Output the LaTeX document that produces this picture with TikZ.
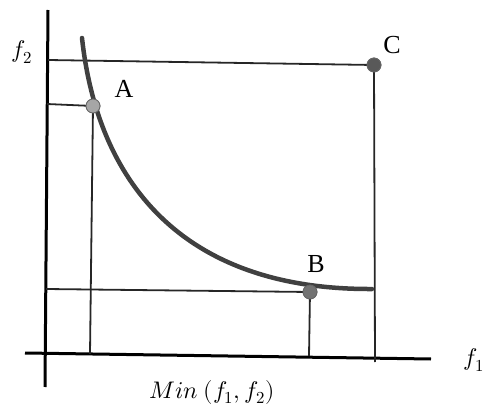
\documentclass[tikz,border=0pt]{standalone}
\usepackage{fontspec}
\usepackage{unicode-math}
\setmainfont{Liberation Serif}
\setmathfont{Latin Modern Math}
\begin{document}
\begin{tikzpicture}[x=1pt,y=-1pt,
  axis/.style={line width=3pt,black},
  guide/.style={line width=1.8pt,black!85},
  front/.style={line width=4.5pt,black!75,line cap=round},
  pt/.style={circle,inner sep=0pt,minimum size=14pt,draw=black!60,line width=0.8pt},
  lbl/.style={font=\fontsize{26}{30}\selectfont,inner sep=0pt},
  mlbl/.style={font=\fontsize{24}{28}\selectfont,inner sep=0pt}]
\useasboundingbox (0,0) rectangle (485,409);
% axes
\coordinate (yt) at (48,10);
\coordinate (yb) at (45,387);
\coordinate (xl) at (25,353);
\coordinate (xr) at (431,359);
\draw[axis] (yt) -- (yb);
\draw[axis] (xl) -- (xr);
% points
\node[pt,fill=black!35] (A) at (93,106) {};
\node[pt,fill=black!55] (B) at (310,292) {};
\node[pt,fill=black!65] (C) at (374,65) {};
% guide lines
\coordinate (f2l) at (48,60);
\coordinate (Al) at (47,104);
\coordinate (Bl) at (46,289);
\coordinate (Ad) at (90,354);
\coordinate (Bd) at (309,356);
\coordinate (Cd) at (375,362);
\draw[guide] (f2l) -- (C.center);
\draw[guide] (C.center) -- (Cd);
\draw[guide] (Al) -- (A.center);
\draw[guide] (A.center) -- (Ad);
\draw[guide] (Bl) -- (B.center);
\draw[guide] (B.center) -- (Bd);
% Pareto front
\coordinate (s) at (82,38);
\coordinate (e) at (372,289);
\draw[front] (s) .. controls (98,185) and (185,290) .. (e);
\node[pt,fill=black!35] at (A) {};
\node[pt,fill=black!55] at (B) {};
\node[pt,fill=black!65] at (C) {};
% labels
\node[lbl] (la) at (124,89) {A};
\node[lbl] (lb) at (316,264) {B};
\node[lbl] (lc) at (392,45) {C};
\node[mlbl] (lf2) at (22,52) {$f_2$};
\node[mlbl] (lf1) at (474,360) {$f_1$};
\node[mlbl] (lmin) at (212,392) {$Min\ (f_1,f_2)$};
\end{tikzpicture}
\end{document}
